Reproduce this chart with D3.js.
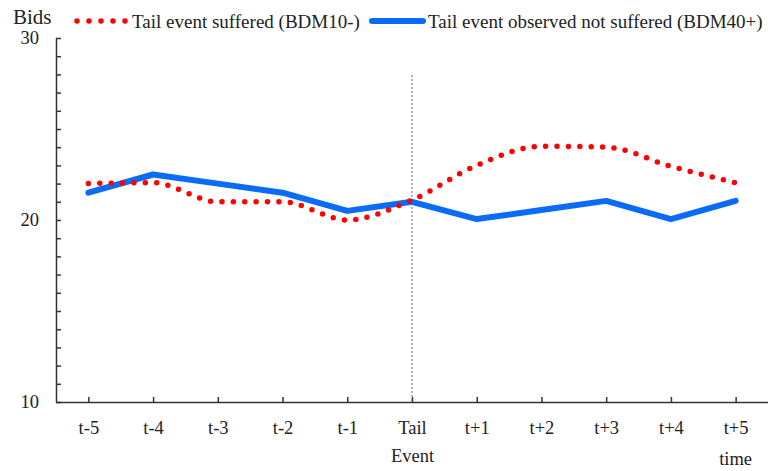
<!DOCTYPE html>
<html>
<head>
<meta charset="utf-8">
<script src="https://cdn.jsdelivr.net/npm/d3@7"></script>
<style>
  body { margin: 0; background: #fff; }
  .canvas { width: 768px; height: 471px; }
  svg text { font-family: "Liberation Serif", "Times New Roman", Tinos, "DejaVu Serif", serif !important; fill: #222; }
</style>
</head>
<body>
<div class="canvas"></div>
<script>
// values
var categories = ['t-5', 't-4', 't-3', 't-2', 't-1', 'Tail\nEvent', 't+1', 't+2', 't+3', 't+4', 't+5'];
var suffered = [22.0, 22.05, 21.0, 21.0, 20.0, 21.1, 23.0, 24.05, 24.0, 22.95, 22.05];      // BDM10-
var notSuffered = [21.5, 22.5, 22.0, 21.5, 20.5, 21.0, 20.05, 20.55, 21.05, 20.05, 21.05]; // BDM40+
var yTicks = d3.range(10, 31);
var seriesNames = ['Tail event suffered (BDM10-)', 'Tail event observed not suffered (BDM40+)'];

var width = 768, height = 471;
var svg = d3.select('.canvas').append('svg')
	.attr('width', width).attr('height', height);

var x = d3.scalePoint()
	.domain(categories)
	.range([56, 768])
	.padding(0.5);

var y = d3.scaleLinear()
	.domain([10, 30])
	.range([402, 38]);

// axes
var yAxis = svg.append('g')
	.attr('transform', 'translate(56,0)')
	.call(d3.axisLeft(y)
		.tickValues(yTicks)
		.tickSizeInner(-5)
		.tickSizeOuter(0)
		.tickPadding(17)
		.tickFormat(function(d) { return d % 10 === 0 ? d : ''; }));

var xAxis = svg.append('g')
	.attr('transform', 'translate(0,402)')
	.call(d3.axisBottom(x)
		.tickSizeInner(-5)
		.tickSizeOuter(0)
		.tickPadding(19));

svg.selectAll('.domain, .tick line')
	.attr('stroke', '#333')
	.attr('stroke-width', 1.5);

svg.selectAll('.tick text')
	.style('font-size', '18.5px');

// two-line category label
xAxis.selectAll('.tick text').each(function(d) {
	var parts = d.split('\n');
	if (parts.length < 2) return;
	var t = d3.select(this).text(parts[0]);
	t.append('tspan').attr('x', 0).attr('dy', '1.5em').text(parts[1]);
});

svg.append('text')
	.attr('x', x('t+5'))
	.attr('y', 465)
	.attr('text-anchor', 'middle')
	.style('font-size', '18.5px')
	.text('time');

svg.append('text')
	.attr('x', 13)
	.attr('y', 24)
	.style('font-size', '21px')
	.text('Bids');

// vertical marker at the tail event
svg.append('line')
	.attr('x1', x(categories[5])).attr('x2', x(categories[5]))
	.attr('y1', 75).attr('y2', 402)
	.attr('stroke', '#666')
	.attr('stroke-width', 1)
	.attr('stroke-dasharray', '2,2');

// lines
var redLine = d3.line()
	.x(function(d, i) { return x(categories[i]); })
	.y(function(d) { return y(d); })
	.curve(d3.curveMonotoneX);

var blueLine = d3.line()
	.x(function(d, i) { return x(categories[i]); })
	.y(function(d) { return y(d); });

svg.append('path')
	.datum(notSuffered)
	.attr('d', blueLine)
	.attr('fill', 'none')
	.attr('stroke', '#0a6cf6')
	.attr('stroke-width', 6)
	.attr('stroke-linejoin', 'round')
	.attr('stroke-linecap', 'round');

svg.append('path')
	.datum(suffered)
	.attr('d', redLine)
	.attr('fill', 'none')
	.attr('stroke', '#ff0000')
	.attr('stroke-width', 5.5)
	.attr('stroke-linecap', 'round')
	.attr('stroke-dasharray', '0 11.4');

// legend
var legend = svg.append('g');
legend.append('line')
	.attr('x1', 77).attr('x2', 126).attr('y1', 21).attr('y2', 21)
	.attr('stroke', '#ff0000')
	.attr('stroke-width', 5.5)
	.attr('stroke-linecap', 'round')
	.attr('stroke-dasharray', '0 12');
legend.append('text')
	.attr('x', 132).attr('y', 28)
	.style('font-size', '19px')
	.text(seriesNames[0]);
legend.append('line')
	.attr('x1', 372).attr('x2', 423).attr('y1', 21).attr('y2', 21)
	.attr('stroke', '#0a6cf6')
	.attr('stroke-width', 6)
	.attr('stroke-linecap', 'round');
legend.append('text')
	.attr('x', 428).attr('y', 28)
	.style('font-size', '19px')
	.text(seriesNames[1]);
</script>
</body>
</html>
